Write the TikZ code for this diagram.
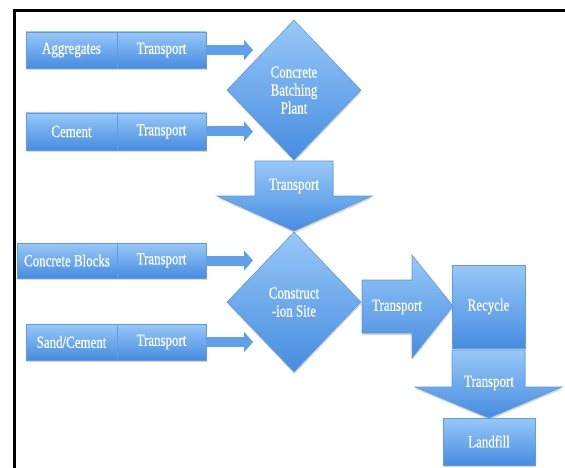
\documentclass[tikz,border=0pt]{standalone}
\usepackage{fontspec}
\setmainfont{Liberation Serif}[FakeStretch=0.76,FakeBold=0.6]
\usetikzlibrary{arrows.meta,shadows,shapes.geometric}
\definecolor{bluetop}{RGB}{152,200,248}
\definecolor{bluebot}{RGB}{70,140,224}
\definecolor{blueedge}{RGB}{95,155,222}
\definecolor{bluearrow}{RGB}{96,160,234}
\begin{document}
\begin{tikzpicture}[x=1pt,y=-1pt,
  blueshade/.style={top color=bluetop,bottom color=bluebot,draw=blueedge,line width=0.6pt},
  shadowed/.style={drop shadow={opacity=0.3,shadow xshift=0.5pt,shadow yshift=-2pt}},
  lbl/.style={text=white,font=\fontsize{17}{18}\selectfont,align=center},
  box/.style={blueshade,shadowed,lbl,inner sep=0pt,anchor=center},
  dia/.style={diamond,blueshade,shadowed,lbl,inner sep=0pt,minimum width=134pt,minimum height=140pt},
  bigarrow/.style={blueshade,shadowed},
  conn/.style={draw=bluearrow,line width=10pt,-{Triangle[length=9pt,width=20pt]}}
]
\useasboundingbox (0,0) rectangle (565,468);
\fill[white] (0,0) rectangle (565,468);
\draw[line width=3.5pt,black,line join=miter] (14.5,470) -- (14.5,10.5) -- (567,10.5);

% input rows
\node[box,minimum width=91pt,minimum height=36pt] (agg) at (71.5,50) {Aggregates};
\node[box,minimum width=89pt,minimum height=36pt] (t1) at (161.5,50) {Transport};
\node[box,minimum width=91pt,minimum height=37pt] (cem) at (71.5,131.5) {Cement};
\node[box,minimum width=89pt,minimum height=37pt] (t2) at (161.5,131.5) {Transport};
\node[box,minimum width=100pt,minimum height=35pt] (blk) at (67,260.5) {Concrete Blocks};
\node[box,minimum width=89pt,minimum height=35pt] (t3) at (161.5,260.5) {Transport};
\node[box,minimum width=91pt,minimum height=36pt] (snd) at (71.5,342) {Sand/Cement};
\node[box,minimum width=89pt,minimum height=36pt] (t4) at (161.5,342) {Transport};

% diamonds
\node[dia] (d1) at (294,90) {Concrete\\Batching\\Plant};
\node[dia] (d2) at (294,302) {Construct\\-ion Site};

% thin connectors
\coordinate (e1) at (253,45);
\coordinate (e2) at (253,131.5);
\coordinate (e3) at (253,260.5);
\coordinate (e4) at (253,342);
\draw[conn] (t1.east) -- (t1.east -| e1);
\draw[conn] (t2.east) -- (t2.east -| e2);
\draw[conn] (t3.east) -- (t3.east -| e3);
\draw[conn] (t4.east) -- (t4.east -| e4);

% big block arrows
\path[bigarrow] (255,161) -- (333,161) -- (333,196) -- (372,196) -- (294,231) -- (217,196) -- (255,196) -- cycle;
\node[lbl] (ta) at (294,186) {Transport};

\path[bigarrow] (362,280) -- (412,280) -- (412,255) -- (453,306) -- (412,358) -- (412,333) -- (362,333) -- cycle;
\node[lbl] (tb) at (397,307) {Transport};

\node[box,minimum width=73pt,minimum height=83pt] (rec) at (488.5,306.5) {Recycle};

\path[bigarrow] (452,350) -- (525,350) -- (525,387) -- (562,387) -- (489,418) -- (415,387) -- (452,387) -- cycle;
\node[lbl] (tc) at (489,383) {Transport};

\node[box,minimum width=92pt,minimum height=47pt] (lf) at (489,441.5) {Landfill};
\end{tikzpicture}
\end{document}
